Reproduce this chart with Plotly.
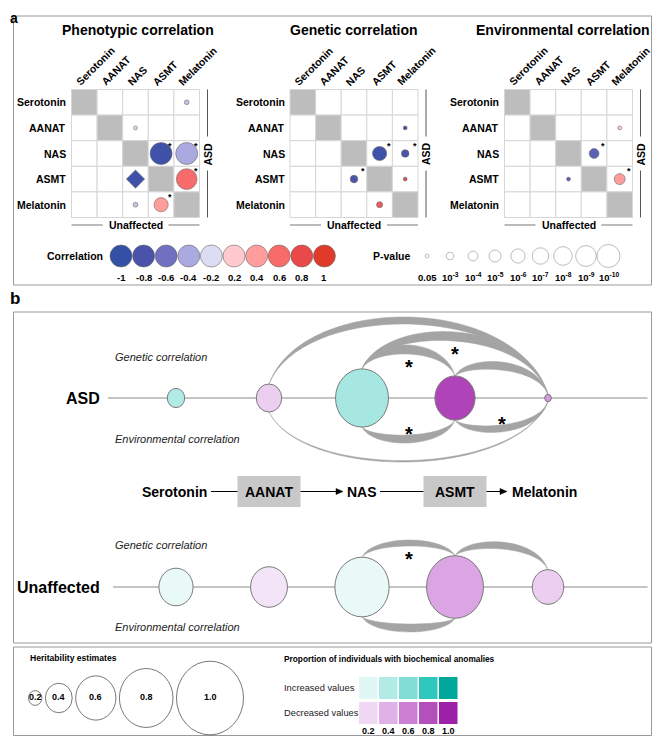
import math
import plotly.graph_objects as go

FONT = "Liberation Sans, Arial, Helvetica, sans-serif"

# ---------------------------------------------------------------- data
metabolites = ["Serotonin", "AANAT", "NAS", "ASMT", "Melatonin"]
matrix_titles = ["Phenotypic correlation", "Genetic correlation", "Environmental correlation"]

corr_legend_values = [-1, -0.8, -0.6, -0.4, -0.2, 0.2, 0.4, 0.6, 0.8, 1]
corr_legend_labels = ["-1", "-0.8", "-0.6", "-0.4", "-0.2", "0.2", "0.4", "0.6", "0.8", "1"]
corr_legend_colors = ["#3350a6", "#4b52aa", "#6f70c0", "#aaaae0", "#dcdcf2",
                      "#ffc9cd", "#ff9d9d", "#f86b6b", "#e94949", "#e03a2a"]
pval_legend_values = [0.05, 1e-3, 1e-4, 1e-5, 1e-6, 1e-7, 1e-8, 1e-9, 1e-10]
pval_legend_labels = ["0.05", "10<sup>-3</sup>", "10<sup>-4</sup>", "10<sup>-5</sup>",
                      "10<sup>-6</sup>", "10<sup>-7</sup>", "10<sup>-8</sup>",
                      "10<sup>-9</sup>", "10<sup>-10</sup>"]

# upper triangle = ASD, lower triangle = Unaffected
pheno_row = [0, 1, 2, 2, 3, 3, 4, 4]
pheno_col = [4, 2, 3, 4, 2, 4, 2, 3]
pheno_r = [-0.3, -0.2, -0.9, -0.4, -0.9, 0.6, -0.3, 0.4]
pheno_p = [2e-2, 5e-2, 3e-10, 3e-10, 1e-11, 1e-9, 2e-2, 1e-6]
pheno_sig = [0, 0, 1, 1, 0, 1, 0, 1]

gen_row = [1, 2, 2, 3, 3, 4]
gen_col = [4, 3, 4, 2, 4, 3]
gen_r = [-0.9, -0.9, -0.8, -0.8, 0.8, 0.7]
gen_p = [5e-2, 1e-6, 1e-3, 1e-3, 5e-2, 5e-3]
gen_sig = [0, 1, 1, 1, 0, 0]

env_row = [1, 2, 3, 3]
env_col = [4, 3, 2, 4]
env_r = [0.2, -0.7, -0.7, 0.4]
env_p = [5e-2, 1e-4, 5e-2, 3e-5]
env_sig = [0, 1, 0, 1]

# panel b
h2_asd = [0.26, 0.38, 0.79, 0.60, 0.10]
h2_unaffected = [0.51, 0.55, 0.81, 0.85, 0.47]
anomaly_asd = [0.40, 0.25, 0.45, 0.85, 0.50]
direction_asd = ["increased", "decreased", "increased", "decreased", "decreased"]
anomaly_unaffected = [0.14, 0.14, 0.14, 0.45, 0.25]
direction_unaffected = ["increased", "decreased", "increased", "decreased", "decreased"]

arc_group = ["ASD"] * 7 + ["Unaffected"] * 3
arc_type = ["genetic", "genetic", "genetic", "genetic",
            "environmental", "environmental", "environmental",
            "genetic", "genetic", "environmental"]
arc_from = [1, 2, 2, 3, 1, 2, 3, 2, 3, 2]
arc_to = [4, 4, 3, 4, 4, 3, 4, 3, 4, 3]
arc_rho = [0.7, 0.9, 0.9, 0.8, 0.15, 0.8, 0.7, 0.6, 0.7, 0.8]
arc_sig = [0, 1, 1, 0, 0, 1, 1, 1, 0, 0]

heritability_legend = [0.2, 0.4, 0.6, 0.8, 1.0]
proportion_legend = [0.2, 0.4, 0.6, 0.8, 1.0]
increased_colors = ["#e0f7f5", "#b2ebe6", "#80dcd4", "#2ec8bc", "#00a89c"]
decreased_colors = ["#f0d8f4", "#e0b0e8", "#cc80d4", "#b450bc", "#9c20a8"]

# ---------------------------------------------------------------- styles / layout
W, H = 660, 744
PAGE_MARGIN = 8          # default body margin of the written html page
BOX_COLOR = "#9a9a9a"
GRID_COLOR = "#d6d6d6"
DIAG_COLOR = "#bdbdbd"
ARC_COLOR = "#a4a4a4"
BOX_RIGHT = 651.5
matrix_left = [71.5, 290.0, 504.5]
matrix_top = 89.5
CELL = 25.6
col_label_widths = [49, 37, 22, 30, 49]
title_dx = [2, 0, -6]
corr_leg_x0, corr_leg_dx, leg_y, leg_lab_y = 121, 22.6, 256, 277
pval_leg_x = [427, 450, 473, 495, 518, 540.5, 563, 586, 608.5]
node_x = [176, 269, 362, 455, 548]
line_y = {"ASD": 398, "Unaffected": 587}
arc_extent = [81, 66, 53, 36, 64, 45, 34, 47, 45, 45]
RX_PER_H = 33.5
ASPECT = 1.1
Y_BOTTOM = H - PAGE_MARGIN   # last visible page row

shapes = []
annotations = []
fig = go.Figure()


def hex_rgb(h):
    h = h.lstrip("#")
    return [int(h[i:i + 2], 16) for i in (0, 2, 4)]


def mix(c1, c2, t):
    a, b = hex_rgb(c1), hex_rgb(c2)
    return "rgb(%d,%d,%d)" % tuple(round(a[i] + (b[i] - a[i]) * t) for i in range(3))


def interp_color(v, stops, colors):
    if v <= stops[0]:
        return mix(colors[0], colors[0], 0)
    for k in range(len(stops) - 1):
        if stops[k] <= v <= stops[k + 1]:
            return mix(colors[k], colors[k + 1], (v - stops[k]) / (stops[k + 1] - stops[k]))
    return mix(colors[-1], colors[-1], 0)


def corr_color(r):
    return interp_color(r, corr_legend_values, corr_legend_colors)


def p_radius(p):
    return 0.5 + 1.1 * (-math.log10(p))


def text(x, y, s, size, bold=False, italic=False, xanchor="center", yanchor="middle",
         angle=0, color="#000", yshift=0):
    if bold:
        s = "<b>" + s + "</b>"
    if italic:
        s = "<i>" + s + "</i>"
    annotations.append(dict(x=x, y=y, xref="x", yref="y", text=s, showarrow=False,
                            xanchor=xanchor, yanchor=yanchor, textangle=angle, yshift=yshift,
                            font=dict(family=FONT, size=size, color=color)))


def line(x0, y0, x1, y1, color="#888", width=1, layer="above"):
    shapes.append(dict(type="line", x0=x0, y0=y0, x1=x1, y1=y1, xref="x", yref="y",
                       line=dict(color=color, width=width), layer=layer))


def rect(x0, y0, x1, y1, fill=None, color=BOX_COLOR, width=1, layer="above"):
    d = dict(type="rect", x0=x0, y0=y0, x1=x1, y1=y1, xref="x", yref="y",
             line=dict(color=color, width=width), layer=layer)
    d["fillcolor"] = fill if fill else "rgba(0,0,0,0)"
    if width == 0:
        d["line"] = dict(width=0)
    shapes.append(d)


def ellipse(cx, cy, rx, ry, fill, color="#7a7a7a", width=1):
    shapes.append(dict(type="circle", x0=cx - rx, x1=cx + rx, y0=cy - ry, y1=cy + ry,
                       xref="x", yref="y", fillcolor=fill,
                       line=dict(color=color, width=width)))


def arrow(x0, x1, y):
    line(x0, y, x1 - 6, y, color="#000", width=1)
    shapes.append(dict(type="path", path=f"M {x1 - 7},{y - 3} L {x1},{y} L {x1 - 7},{y + 3} Z",
                       xref="x", yref="y", fillcolor="#000", line=dict(color="#000", width=0.5)))


# ---------------------------------------------------------------- panel boxes
rect(13.5, 16, BOX_RIGHT, 285)
rect(13.5, 312, BOX_RIGHT, 643)
rect(13.5, 647, BOX_RIGHT, Y_BOTTOM - 0.5)
text(8, 8, "a", 14, bold=True, xanchor="left", yanchor="top")
text(8, 298, "b", 17, bold=True, xanchor="left")

# ---------------------------------------------------------------- panel a matrices
mat_data = [(pheno_row, pheno_col, pheno_r, pheno_p, pheno_sig),
            (gen_row, gen_col, gen_r, gen_p, gen_sig),
            (env_row, env_col, env_r, env_p, env_sig)]
n = len(metabolites)
for k in range(3):
    x0 = matrix_left[k]
    y0 = matrix_top
    x1 = x0 + n * CELL
    y1 = y0 + n * CELL
    cxm = (x0 + x1) / 2
    for i in range(n):
        for j in range(n):
            rect(x0 + j * CELL, y0 + i * CELL, x0 + (j + 1) * CELL, y0 + (i + 1) * CELL,
                 fill=DIAG_COLOR if i == j else "#ffffff", color=GRID_COLOR, width=1,
                 layer="below")
    for i, name in enumerate(metabolites):
        text(x0 - 3.5, y0 + (i + 0.5) * CELL, name, 10.5, bold=True, xanchor="right")
        cx = x0 + (i + 0.5) * CELL
        w = col_label_widths[i]
        sx, sy = cx - 6.5, y0 - 6
        text(sx + w / 2 * 0.7071, sy - w / 2 * 0.7071, name, 10.5, bold=True, angle=-45)
    text(cxm + title_dx[k], 30, matrix_titles[k], 14, bold=True)
    # ASD bracket
    bx = x1 + 8
    line(bx, y0, bx, y0 + 47, color="#555", width=1)
    line(bx, y0 + 81, bx, y1, color="#555", width=1)
    text(bx, y0 + 64.5, "ASD", 10.5, bold=True, angle=-90)
    # Unaffected bracket
    line(x0, 225, cxm - 33, 225, color="#777", width=1)
    line(cxm + 33, 225, x1, 225, color="#777", width=1)
    text(cxm, 225, "Unaffected", 10.5, bold=True)

    rows, cols, rs, ps, sigs = mat_data[k]
    xs = [x0 + (c + 0.5) * CELL for c in cols]
    ys = [y0 + (r + 0.5) * CELL for r in rows]
    sizes, symbols = [], []
    for p in ps:
        if p < 1e-10:
            symbols.append("diamond")
            sizes.append(14)
        else:
            symbols.append("circle")
            sizes.append(2 * p_radius(p))
    fig.add_trace(go.Scatter(
        x=xs, y=ys, mode="markers", hoverinfo="skip",
        marker=dict(size=sizes, symbol=symbols, color=[corr_color(r) for r in rs],
                    line=dict(color="#6a6a6a", width=0.6), opacity=1)))
    for r, c, s in zip(rows, cols, sigs):
        if s:
            text(x0 + (c + 1) * CELL - 3.5, y0 + r * CELL + 5, "*", 9, bold=True)

# correlation legend
text(105, leg_y, "Correlation", 10.5, bold=True, xanchor="right")
cl_x = [corr_leg_x0 + i * corr_leg_dx for i in range(len(corr_legend_values))]
fig.add_trace(go.Scatter(
    x=cl_x, y=[leg_y] * len(cl_x), mode="markers", hoverinfo="skip",
    marker=dict(size=22, color=[corr_color(v) for v in corr_legend_values],
                line=dict(color="#6a6a6a", width=0.6))))
for x, lab in zip(cl_x, corr_legend_labels):
    text(x, leg_lab_y, lab, 9.5, bold=True)

# p-value legend
text(413, leg_y, "P-value", 10.5, bold=True, xanchor="right")
fig.add_trace(go.Scatter(
    x=pval_leg_x, y=[leg_y] * len(pval_leg_x), mode="markers", hoverinfo="skip",
    marker=dict(size=[2 * p_radius(p) for p in pval_legend_values], color="rgba(255,255,255,0)",
                line=dict(color="#8a8a8a", width=0.8))))
for x, lab in zip(pval_leg_x, pval_legend_labels):
    text(x, leg_lab_y, lab, 9.5, bold=True)

# ---------------------------------------------------------------- panel b
def prop_color(v, direction):
    cols = increased_colors if direction == "increased" else decreased_colors
    return interp_color(v, [0] + proportion_legend, ["#ffffff"] + cols)


groups = {
    "ASD": (h2_asd, anomaly_asd, direction_asd, 108),
    "Unaffected": (h2_unaffected, anomaly_unaffected, direction_unaffected, 113),
}
for g, (h2, prop, dirs, lx) in groups.items():
    ly = line_y[g]
    line(lx, ly, BOX_RIGHT - 4, ly, color="#8a8a8a", width=1)
    text(102, ly, g, 16, bold=True, xanchor="right")
    text(113, ly - (41 if g == "ASD" else 42), "Genetic correlation", 11, italic=True,
         xanchor="left", color="#222")
    text(113, ly + (41 if g == "ASD" else 40), "Environmental correlation", 11, italic=True,
         xanchor="left", color="#222")

# arcs
for a in range(len(arc_from)):
    g = arc_group[a]
    h2 = h2_asd if g == "ASD" else h2_unaffected
    ly = line_y[g]
    i, j = arc_from[a], arc_to[a]
    sgn = -1 if arc_type[a] == "genetic" else 1
    rxi, rxj = RX_PER_H * h2[i], RX_PER_H * h2[j]
    xa, ya = node_x[i], ly + sgn * rxi * ASPECT
    xb, yb = node_x[j], ly + sgn * rxj * ASPECT
    thick = 10 * arc_rho[a]
    peak_out = ly + sgn * arc_extent[a]
    peak_in = peak_out - sgn * thick
    c_out = (peak_out - 0.125 * (ya + yb)) / 0.75
    c_in = (peak_in - 0.125 * (ya + yb)) / 0.75
    dx = 0.12 * (xb - xa)
    c1x, c2x = xa + dx, xb - dx
    path = (f"M {xa},{ya} C {c1x},{c_out} {c2x},{c_out} {xb},{yb} "
            f"C {c2x},{c_in} {c1x},{c_in} {xa},{ya} Z")
    shapes.append(dict(type="path", path=path, xref="x", yref="y", fillcolor=ARC_COLOR,
                       line=dict(color=ARC_COLOR, width=0.5)))
    if arc_sig[a]:
        ay = peak_in + (13 if sgn < 0 else -1)
        text((xa + xb) / 2, ay, "*", 20, bold=True)

# nodes
for g, (h2, prop, dirs, lx) in groups.items():
    ly = line_y[g]
    for k in range(len(metabolites)):
        rx = RX_PER_H * h2[k]
        ellipse(node_x[k], ly, rx, rx * ASPECT, prop_color(prop[k], dirs[k]))

# pathway
py = 491.5
half_w = [34, 31.5, 16, 31.5, 37]
text_dx = [-2, 0, 0, 0, -4]
for k, name in enumerate(metabolites):
    if k in (1, 3):
        rect(node_x[k] - half_w[k], 476, node_x[k] + half_w[k], 507, fill="#c8c8c8",
             width=0, layer="below")
    text(node_x[k] + text_dx[k], py, name, 14, bold=True)
line(node_x[0] - 2 + half_w[0] + 3, py, node_x[1] - half_w[1], py, color="#000", width=1)
line(node_x[2] + half_w[2] + 2, py, node_x[3] - half_w[3], py, color="#000", width=1)
for k in (1, 3):
    x_start = node_x[k] + half_w[k]
    x_end = node_x[k + 1] - half_w[k + 1] - (3 if k == 1 else 4)
    arrow(x_start, x_end, py)

# ---------------------------------------------------------------- bottom legend
text(28, 658, "Heritability estimates", 8.6, bold=True, xanchor="left")
left = 28.5
her_y = 698
for h in heritability_legend:
    rx = RX_PER_H * h
    cx = left + rx
    ellipse(cx, her_y, rx, rx * ASPECT, "rgba(0,0,0,0)", color="#555", width=0.8)
    text(cx, her_y - 1, "%.1f" % h, 9, bold=True)
    left = cx + rx + 3.5

text(282, 659, "Proportion of individuals with biochemical anomalies", 8.3, bold=True,
     xanchor="left")
text(282, 688, "Increased values", 9.3, xanchor="left", color="#222")
text(282, 713, "Decreased values", 9.3, xanchor="left", color="#222")
for k, v in enumerate(proportion_legend):
    sx = 359 + 20 * k
    rect(sx, 677, sx + 18.5, 699, fill=increased_colors[k], width=0)
    rect(sx, 702, sx + 18.5, 724, fill=decreased_colors[k], width=0)
    text(sx + 9.25, 731, "%.1f" % v, 9, bold=True)

fig.update_layout(
    width=W - PAGE_MARGIN, height=H - 2 * PAGE_MARGIN, margin=dict(l=0, r=0, t=0, b=0),
    autosize=False, paper_bgcolor="#ffffff", plot_bgcolor="#ffffff", showlegend=False,
    xaxis=dict(range=[PAGE_MARGIN, W], visible=False, fixedrange=True),
    yaxis=dict(range=[Y_BOTTOM, PAGE_MARGIN], visible=False, fixedrange=True),
    shapes=shapes, annotations=annotations,
)
fig.write_html("out.html")
